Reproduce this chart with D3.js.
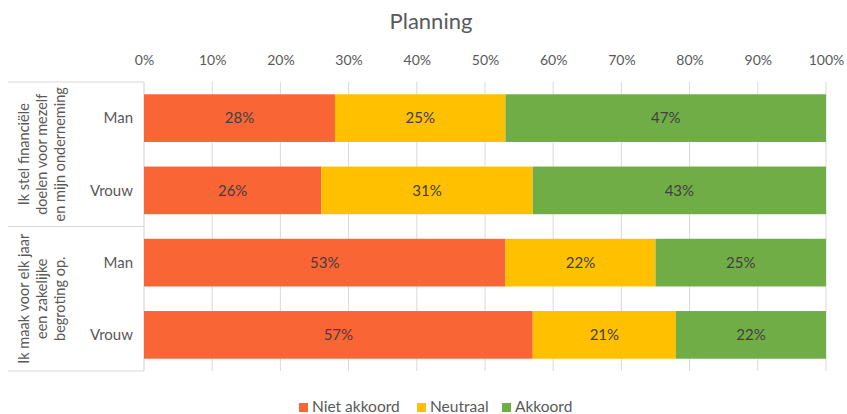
<!DOCTYPE html>
<html>
<head>
<meta charset="utf-8">
<script src="https://cdn.jsdelivr.net/npm/d3@7/dist/d3.min.js"></script>
<style>
  html, body { margin: 0; padding: 0; background: #fff; }
  svg { display: block; font-family: Lato, "Open Sans", sans-serif; }
</style>
</head>
<body>
<svg id="chart" width="847" height="414"></svg>
<script>
// Survey answers per statement and gender (percent)
const groups = [
  ["Ik stel financiële", "doelen voor mezelf", "en mijn onderneming"],
  ["Ik maak voor elk jaar", "een zakelijke", "begroting op."]
];
const rows = ["Man", "Vrouw", "Man", "Vrouw"];
const series = ["Niet akkoord", "Neutraal", "Akkoord"];
const nietAkkoord = [28, 26, 53, 57];
const neutraal = [25, 31, 22, 21];
const akkoord = [47, 43, 25, 22];
const ticks = [0, 10, 20, 30, 40, 50, 60, 70, 80, 90, 100];
const colors = ["#FA6536", "#FFC000", "#70AD47"];

(function () {
const values = [nietAkkoord, neutraal, akkoord];
const data = rows.map((r, i) => {
  const d = { key: i, label: r };
  series.forEach((s, j) => d[s] = values[j][i]);
  return d;
});
const stacked = d3.stack().keys(series)(data);

const svg = d3.select("#chart");
const pLeft = 144, pRight = 826, pTop = 82, pBottom = 371;

const x = d3.scaleLinear().domain([0, 100]).range([pLeft, pRight]);
const y = d3.scaleBand().domain(d3.range(rows.length)).range([pTop, pBottom]).paddingInner(0.34).paddingOuter(0.17);

// Title
svg.append("text").attr("x", 431).attr("y", 29).attr("text-anchor", "middle")
  .attr("font-size", 22).attr("fill", "#595959").text("Planning");

// Gridlines
svg.append("g").selectAll("line").data(ticks.slice(1)).join("line")
  .attr("x1", d => x(d)).attr("x2", d => x(d))
  .attr("y1", pTop).attr("y2", pBottom)
  .attr("stroke", "#d9d9d9").attr("stroke-width", 1);

// Top axis labels
const xAxis = d3.axisTop(x).tickValues(ticks).tickFormat(d => d + "%").tickSize(0).tickPadding(0);
const gx = svg.append("g").attr("transform", `translate(0,${65})`).call(xAxis);
gx.select(".domain").remove();
gx.selectAll("text").attr("font-size", 14).attr("fill", "#595959").attr("font-family", "Lato, 'Open Sans', sans-serif");

// Category axis frame
const frame = svg.append("g").attr("stroke", "#d9d9d9").attr("stroke-width", 1.2);
frame.append("line").attr("x1", pLeft).attr("x2", pLeft).attr("y1", pTop).attr("y2", pBottom);
const sep = [pTop, (y(1) + y.bandwidth() + y(2)) / 2, pBottom];
frame.selectAll("line.h").data(sep).join("line").attr("class", "h")
  .attr("x1", 8).attr("x2", pLeft).attr("y1", d => d).attr("y2", d => d);

// Bars
const layer = svg.append("g").selectAll("g").data(stacked).join("g")
  .attr("fill", (d, i) => colors[i]);
layer.selectAll("rect").data(d => d).join("rect")
  .attr("x", d => x(d[0])).attr("width", d => x(d[1]) - x(d[0]))
  .attr("y", (d, i) => y(i)).attr("height", y.bandwidth());

// Value labels
svg.append("g").selectAll("g").data(stacked).join("g")
  .selectAll("text").data(d => d.map(v => ({ v, key: d.key }))).join("text")
  .attr("x", d => (x(d.v[0]) + x(d.v[1])) / 2)
  .attr("y", (d, i) => y(i) + y.bandwidth() / 2)
  .attr("dy", "0.35em").attr("text-anchor", "middle")
  .attr("font-size", 15).attr("fill", "#404040")
  .text(d => d.v.data[d.key] + "%");

// Row labels
svg.append("g").selectAll("text").data(rows).join("text")
  .attr("x", 133).attr("y", (d, i) => y(i) + y.bandwidth() / 2)
  .attr("dy", "0.35em").attr("text-anchor", "end")
  .attr("font-size", 15).attr("fill", "#595959").text(d => d);

// Group labels (rotated)
groups.forEach((lines, g) => {
  const cy = (sep[g] + sep[g + 1]) / 2;
  const t = svg.append("text")
    .attr("transform", `translate(42,${cy}) rotate(-90)`)
    .attr("text-anchor", "middle").attr("font-size", 14.5).attr("fill", "#595959");
  lines.forEach((l, k) => {
    t.append("tspan").attr("x", 0).attr("y", (k - 1) * 18).attr("dy", "0.35em").text(l);
  });
});

// Legend
const legendX = [299, 417, 502];
const lg = svg.append("g").selectAll("g").data(series).join("g")
  .attr("transform", (d, i) => `translate(${legendX[i]},${407})`);
lg.append("rect").attr("x", 0).attr("y", -4).attr("width", 9).attr("height", 9)
  .attr("fill", (d, i) => colors[i]);
lg.append("text").attr("x", 13).attr("y", 0).attr("dy", "0.35em")
  .attr("font-size", 15.5).attr("fill", "#595959").text(d => d);
})();
</script>
</body>
</html>
